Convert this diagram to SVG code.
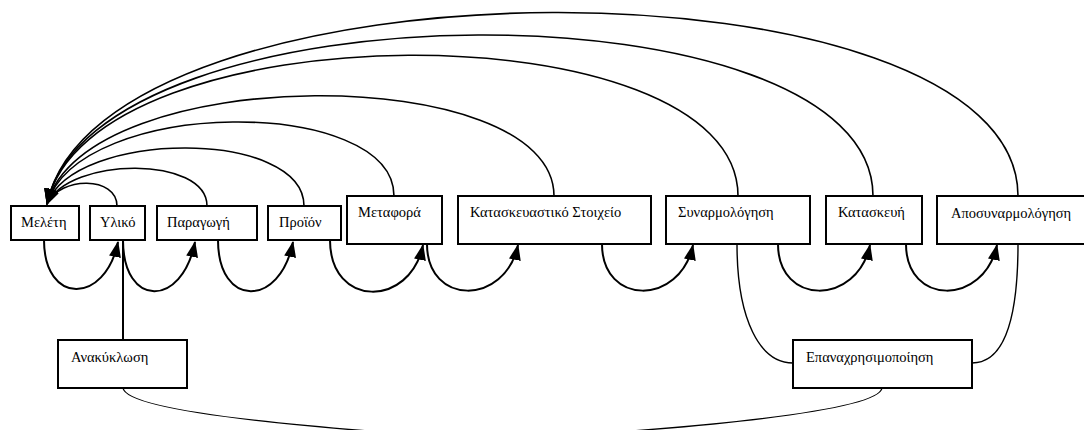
<svg xmlns="http://www.w3.org/2000/svg" width="1084" height="430" viewBox="0 0 1084 430">
<style>
.box{fill:#fff;stroke:#000;stroke-width:2}
.lbl{font-family:"Liberation Serif","Times New Roman",serif;font-size:14.5px;fill:#000}
.loop{fill:none;stroke:#000;stroke-width:2}
.arc{fill:none;stroke:#000;stroke-width:1.6}
.thin{fill:none;stroke:#000;stroke-width:1.4}
</style>
<defs>
<marker id="ah" viewBox="0 0 16 12" refX="15" refY="6" markerUnits="userSpaceOnUse" markerWidth="16" markerHeight="12" orient="auto">
<path d="M0,0 L16,6 L0,12 z" fill="#000"/>
</marker>
</defs>
<rect width="1084" height="430" fill="#fff"/>
<g id="connectors">
<path class="arc" d="M117,206 C117,176 60,176 47,204" marker-end="url(#ah)"/>
<path class="arc" d="M207,206 C207,156 70,156 47,204" marker-end="url(#ah)"/>
<path class="arc" d="M304,206 C304,129 75,129 47,204" marker-end="url(#ah)"/>
<path class="arc" d="M394,196 C394,96 80,96 47,204" marker-end="url(#ah)"/>
<path class="arc" d="M554,196 C554,61 85,61 47,204" marker-end="url(#ah)"/>
<path class="arc" d="M738,196 C738,7 90,7 47,204" marker-end="url(#ah)"/>
<path class="arc" d="M873,196 C873,-20 95,-20 47,204" marker-end="url(#ah)"/>
<path class="arc" d="M1018,196 C1018,-50 100,-50 47,204" marker-end="url(#ah)"/>
<path class="loop" d="M44,240 C44,305 105,305 118,242" marker-end="url(#ah)"/>
<path class="loop" d="M123,240 C123,308 182,308 195,242" marker-end="url(#ah)"/>
<path class="loop" d="M218,240 C218,308 280,308 293,242" marker-end="url(#ah)"/>
<path class="loop" d="M330,240 C330,308 410,308 423,245" marker-end="url(#ah)"/>
<path class="loop" d="M427,244 C427,306 505,306 518,245" marker-end="url(#ah)"/>
<path class="loop" d="M602,244 C602,306 680,306 693,245" marker-end="url(#ah)"/>
<path class="loop" d="M778,244 C778,306 857,306 870,245" marker-end="url(#ah)"/>
<path class="loop" d="M906,244 C906,306 984,306 997,245" marker-end="url(#ah)"/>
<path class="loop" d="M123,340 L123,240"/>
<path class="thin" d="M123,388 C126,408 250,425 500,440 C750,425 879,408 882,388"/>
<path class="thin" d="M737,244 C737,320 760,363 793,363"/>
<path class="thin" d="M1018,244 C1018,330 1000,363 972,363"/>
</g>
<g id="n-melete"><rect class="box" x="11" y="206" width="68" height="34"/><text class="lbl" x="21" y="227">Μελέτη</text></g>
<g id="n-yliko"><rect class="box" x="90" y="206" width="55" height="34"/><text class="lbl" x="100" y="227">Υλικό</text></g>
<g id="n-paragogi"><rect class="box" x="157" y="206" width="100" height="34"/><text class="lbl" x="167" y="227">Παραγωγή</text></g>
<g id="n-proion"><rect class="box" x="268" y="206" width="73" height="34"/><text class="lbl" x="279" y="227">Προϊόν</text></g>
<g id="n-metafora"><rect class="box" x="347" y="196" width="95" height="48"/><text class="lbl" x="358" y="217">Μεταφορά</text></g>
<g id="n-stoixeio"><rect class="box" x="458" y="196" width="193" height="48"/><text class="lbl" x="470" y="217">Κατασκευαστικό Στοιχείο</text></g>
<g id="n-synarmologisi"><rect class="box" x="666" y="196" width="144" height="48"/><text class="lbl" x="678" y="217">Συναρμολόγηση</text></g>
<g id="n-kataskevi"><rect class="box" x="826" y="196" width="96" height="48"/><text class="lbl" x="838" y="217">Κατασκευή</text></g>
<g id="n-aposynarmologisi"><rect class="box" x="937" y="196" width="155" height="48"/><text class="lbl" x="951" y="218">Αποσυναρμολόγηση</text></g>
<g id="n-anakyklosi"><rect class="box" x="58" y="340" width="129" height="48"/><text class="lbl" x="71" y="362">Ανακύκλωση</text></g>
<g id="n-epanaxrisimopoiisi"><rect class="box" x="793" y="340" width="179" height="48"/><text class="lbl" x="806" y="362">Επαναχρησιμοποίηση</text></g>
</svg>
